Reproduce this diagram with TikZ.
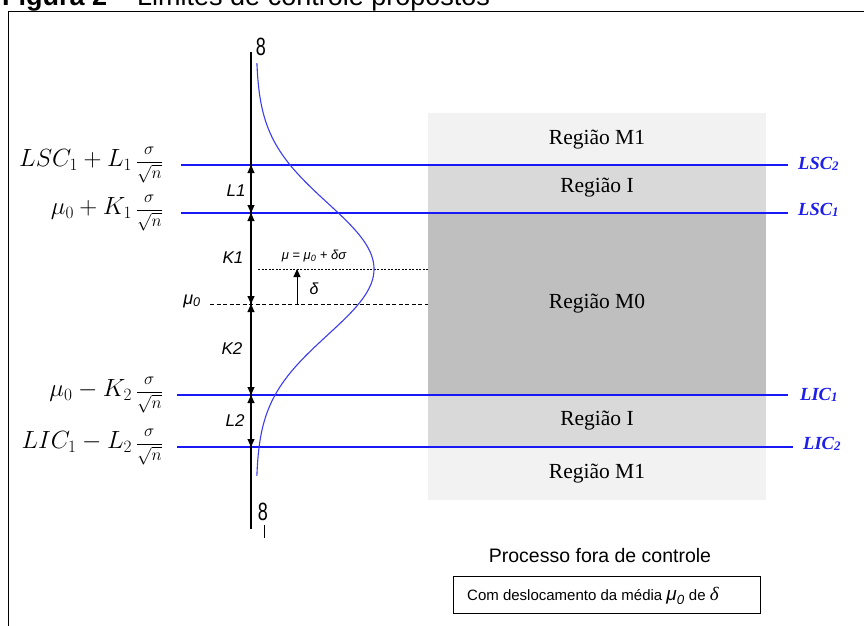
\documentclass[tikz,border=0pt]{standalone}
\usepackage{fontspec}
\setmainfont{Liberation Serif}
\setsansfont{Liberation Sans}
\usetikzlibrary{arrows.meta}
\definecolor{lineblue}{RGB}{25,25,245}
\definecolor{labblue}{RGB}{30,30,235}
\definecolor{curveblue}{RGB}{60,60,240}
\definecolor{gA}{RGB}{242,242,242}
\definecolor{gB}{RGB}{217,217,217}
\definecolor{gC}{RGB}{191,191,191}
\newcommand{\fs}[1]{\fontsize{#1}{#1}\selectfont}
\newcommand{\sfrac}{{\fs{18}$\displaystyle\frac{\sigma}{\sqrt{n}}$}}
\tikzset{
  limline/.style={lineblue, line width=1.3pt},
  mathlab/.style={anchor=east, inner sep=0pt, font=\fs{23}},
  rightlab/.style={anchor=west, inner sep=0pt, text=labblue, font=\fs{18.5}\bfseries\itshape},
  dimlab/.style={inner sep=0pt, font=\sffamily\itshape\fs{17}},
  reglab/.style={inner sep=0pt, font=\fs{21.5}},
  dimarrow/.style={line width=1pt, {Triangle[length=8pt,width=7pt]}-{Triangle[length=8pt,width=7pt]}},
  infsign/.style={inner sep=0pt, text=black, font=\sffamily\fs{25}},
}
\begin{document}
\begin{tikzpicture}[x=1pt,y=-1pt]
\useasboundingbox (0,0) rectangle (864,625);
\clip (0,0) rectangle (864,625);
% title (cut off at top) and frame
\node[anchor=base west, inner sep=0pt, font=\sffamily\fs{27}] (title) at (2,5) {\textbf{Figura 2} -- Limites de controle propostos};
\draw[line width=1pt] (8,640) -- (8,11) -- (880,11);
% gray regions
\fill[gA] (428,113) rectangle (766,165);
\fill[gB] (428,165) rectangle (766,213);
\fill[gC] (428,213) rectangle (766,395);
\fill[gB] (428,395) rectangle (766,447);
\fill[gA] (428,447) rectangle (766,500);
\node[reglab] (rM1a) at (597,140) {Região M1};
\node[reglab] (rIa) at (597,188) {Região I};
\node[reglab] (rM0) at (597,304) {Região M0};
\node[reglab] (rIb) at (597,421) {Região I};
\node[reglab] (rM1b) at (597,474) {Região M1};
% coordinates
\coordinate (axtop) at (251,52);
\coordinate (axbot) at (251,529);
\coordinate (a1) at (251,165);
\coordinate (a2) at (251,213);
\coordinate (a3) at (251,304);
\coordinate (a4) at (251,395);
\coordinate (a5) at (251,447);
% limit lines
\coordinate (l1s) at (181,165); \coordinate (l1e) at (788,165);
\coordinate (l2s) at (181,213); \coordinate (l2e) at (788,213);
\coordinate (l3s) at (177,395); \coordinate (l3e) at (788,395);
\coordinate (l4s) at (177,447); \coordinate (l4e) at (793,447);
\draw[limline] (l1s) -- (l1e);
\draw[limline] (l2s) -- (l2e);
\draw[limline] (l3s) -- (l3e);
\draw[limline] (l4s) -- (l4e);
% mean lines
\coordinate (m0s) at (210,304); \coordinate (m0e) at (428,304);
\coordinate (m1s) at (258,269); \coordinate (m1e) at (428,269);
\draw[line width=0.9pt, dash pattern=on 4pt off 2.5pt] (m0s) -- (m0e);
\draw[line width=0.6pt, dash pattern=on 2pt off 1.5pt] (m1s) -- (m1e);
% axis
\draw[line width=1.1pt] (axtop) -- (axbot);
\draw[dimarrow] (a1) -- (a2);
\draw[dimarrow] (a2) -- (a3);
\draw[dimarrow] (a3) -- (a4);
\draw[dimarrow] (a4) -- (a5);
% normal curve
\draw[curveblue, line width=1.1pt] plot[domain=63:476, samples=160, variable=\t] ({256+118*exp(-0.5*((\t-269)/66)^2)}, \t);
% delta arrow
\coordinate (d0) at (297,304);
\coordinate (d1) at (297,269);
\draw[line width=1pt, -{Triangle[length=8pt,width=7pt]}] (d0) -- (d1);
% infinity signs
\node[infsign] (inftop) at (261,47) {\scalebox{0.72}[1]{8}};
\node[infsign] (infbot) at (263,512) {\scalebox{0.72}[1]{8}};
\coordinate (tk1) at (264,525); \coordinate (tk2) at (264,538);
\draw[line width=0.9pt] (tk1) -- (tk2);
% left math labels
\node[mathlab] (m1) at (163,165) {$LSC_1+L_1$\,\sfrac};
\node[mathlab] (m2) at (163,213) {$\mu_0+K_1$\,\sfrac};
\node[mathlab] (m3) at (163,395) {$\mu_0-K_2$\,\sfrac};
\node[mathlab] (m4) at (163,447) {$LIC_1-L_2$\,\sfrac};
% right labels
\node[rightlab] (r1) at (798,164) {LSC\raisebox{-0.5pt}{\fs{13}2}};
\node[rightlab] (r2) at (798,210) {LSC\raisebox{-0.5pt}{\fs{13}1}};
\node[rightlab] (r3) at (800,395) {LIC\raisebox{-0.5pt}{\fs{13}1}};
\node[rightlab] (r4) at (803,444) {LIC\raisebox{-0.5pt}{\fs{13}2}};
% dimension labels
\node[dimlab] (L1) at (236,191) {L1};
\node[dimlab] (K1) at (233,258) {K1};
\node[dimlab] (K2) at (232,349) {K2};
\node[dimlab] (L2) at (235,421) {L2};
\node[dimlab, font=\sffamily\itshape\fs{18}] (mu0) at (192,301) {μ\textsubscript{0}};
\node[inner sep=0pt, font=\sffamily\itshape\fs{13}] (mueq) at (314,256) {μ = μ\textsubscript{0} + δσ};
\node[inner sep=0pt, font=\sffamily\itshape\fs{16}] (delta) at (314,289) {δ};
% bottom
\node[inner sep=0pt, font=\sffamily\fs{19.5}] (proc) at (600,556) {Processo fora de controle};
\node[draw, line width=1pt, minimum width=307pt, minimum height=37pt, inner sep=0pt] (box) at (606.5,594.5) {};
\node[anchor=west, inner sep=0pt, font=\sffamily\fs{15}] (boxtxt) at (467,596) {Com deslocamento da média {\itshape\fs{19}μ\textsubscript{0}} de {\rmfamily\itshape\fs{19}δ}};
\end{tikzpicture}
\end{document}
